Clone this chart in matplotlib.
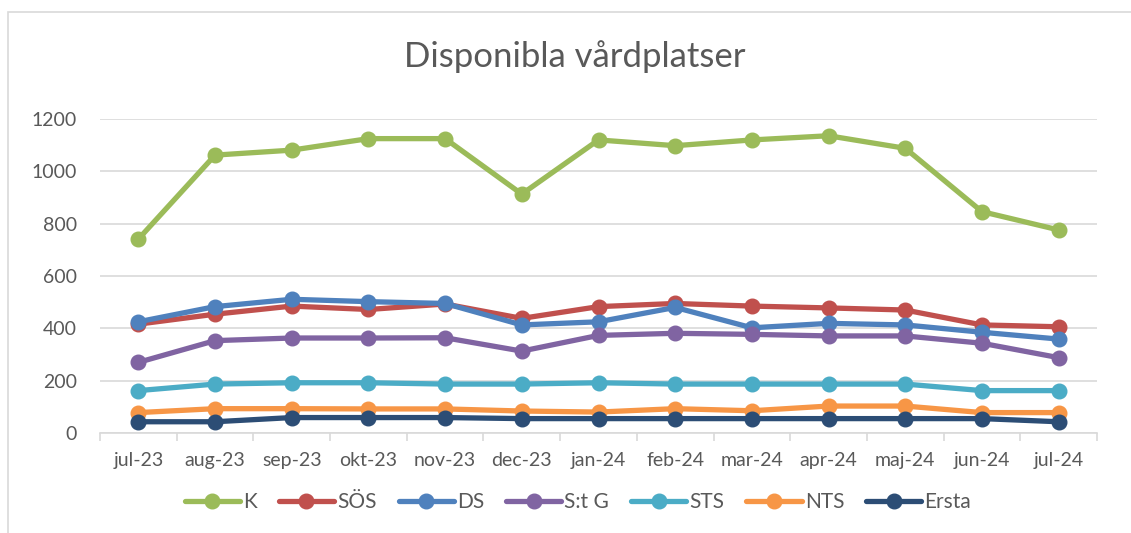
import matplotlib
matplotlib.use('Agg')
import matplotlib.pyplot as plt
from matplotlib.patches import Rectangle

# månader (x-axel)
months = ['jul-23', 'aug-23', 'sep-23', 'okt-23', 'nov-23', 'dec-23', 'jan-24',
          'feb-24', 'mar-24', 'apr-24', 'maj-24', 'jun-24', 'jul-24']

# disponibla vårdplatser per sjukhus
k_vals     = [741, 1062, 1081, 1125, 1125, 913, 1120, 1098, 1120, 1136, 1088, 846, 776]
sos_vals   = [416, 454, 485, 472, 493, 438, 483, 495, 485, 478, 470, 413, 406]
ds_vals    = [425, 483, 511, 502, 495, 413, 425, 480, 402, 419, 413, 385, 359]
stg_vals   = [270, 353, 363, 363, 364, 313, 373, 381, 377, 371, 371, 343, 288]
sts_vals   = [162, 187, 192, 192, 187, 187, 192, 187, 187, 187, 187, 162, 162]
nts_vals   = [78, 93, 93, 92, 92, 84, 80, 93, 85, 103, 103, 78, 78]
ersta_vals = [43, 43, 59, 59, 59, 55, 55, 55, 55, 55, 55, 55, 43]

series_names = ['K', 'SÖS', 'DS', 'S:t G', 'STS', 'NTS', 'Ersta']
series_vals = [k_vals, sos_vals, ds_vals, stg_vals, sts_vals, nts_vals, ersta_vals]
colors = ['#9BBB59', '#C0504D', '#4F81BD', '#8064A2', '#4BACC6', '#F79646', '#2C4D75']

plt.rcParams['font.family'] = ['Lato', 'DejaVu Sans']
txt = '#595959'
grid_c = '#D9D9D9'

fig = plt.figure(figsize=(11.31, 5.33), dpi=100)
fig.patch.set_facecolor('white')
ax = fig.add_axes([100 / 1131, 100 / 533, 997 / 1131, 314 / 533])

x = list(range(len(months)))
for name, vals, c in zip(series_names, series_vals, colors):
    ax.plot(x, vals, color=c, linewidth=3.8, marker='o', markersize=10.5,
            label=name, solid_capstyle='round', solid_joinstyle='round')

ax.set_xlim(-0.5, len(months) - 0.5)
ax.set_ylim(0, 1200)
ax.set_yticks(range(0, 1201, 200))
ax.yaxis.grid(True, color=grid_c, linewidth=1.2)
ax.set_axisbelow(True)

ax.set_xticks(x)
ax.set_xticklabels(months)
ax.set_xticks([i - 0.5 for i in range(len(months) + 1)], minor=True)
ax.tick_params(axis='x', which='major', length=0, pad=14, labelsize=14, colors=txt)
ax.tick_params(axis='x', which='minor', length=6, width=1.2, color=grid_c)
ax.tick_params(axis='y', length=0, pad=16.5, labelsize=14, colors=txt)

for s in ['top', 'right', 'left']:
    ax.spines[s].set_visible(False)
ax.spines['bottom'].set_color(grid_c)
ax.spines['bottom'].set_linewidth(1.2)

fig.text(575 / 1131, (533 - 57) / 533, 'Disponibla vårdplatser', ha='center',
         va='center', fontsize=25, color=txt)

leg = fig.legend(loc='center', bbox_to_anchor=(578 / 1131, 31 / 533), ncol=7,
                 frameon=False, fontsize=15, handlelength=2.65, columnspacing=1.05,
                 handletextpad=0.15)
for t in leg.get_texts():
    t.set_color(txt)

# ram runt diagrammet
fig.add_artist(Rectangle((8 / 1131, -0.1), 1.2, (533 - 12) / 533 + 0.1,
                         transform=fig.transFigure, fill=False,
                         edgecolor=grid_c, linewidth=1.2))

fig.savefig('out.png', dpi=100, facecolor='white')
